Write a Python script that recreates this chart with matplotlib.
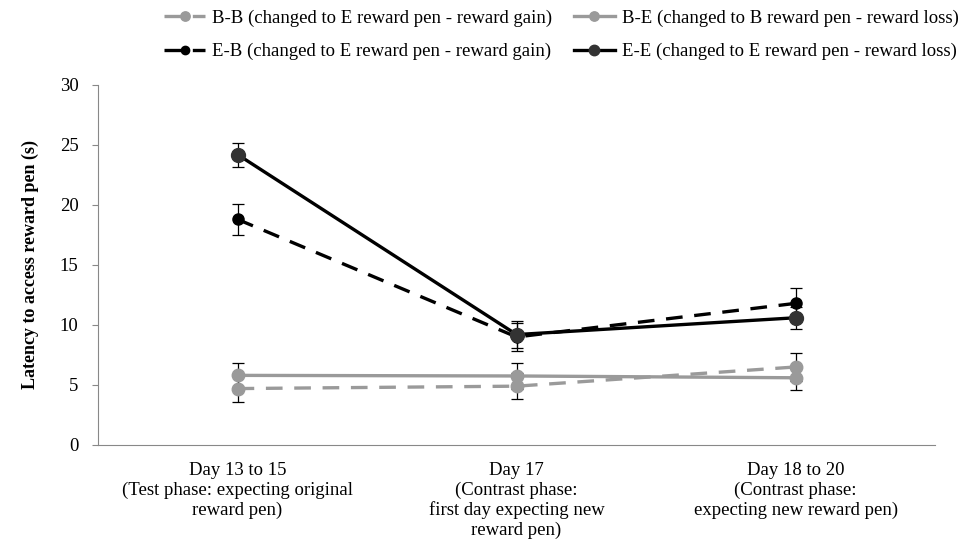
import matplotlib.pyplot as plt

periods = ['Day 13 to 15\n(Test phase: expecting original\nreward pen)',
           'Day 17\n(Contrast phase:\nfirst day expecting new\nreward pen)',
           'Day 18 to 20\n(Contrast phase:\nexpecting new reward pen)']

bb_mean = [4.7, 4.9, 6.5]
bb_err = [1.1, 1.1, 1.2]
be_mean = [5.8, 5.75, 5.6]
be_err = [1.0, 1.05, 1.0]
eb_mean = [18.8, 9.0, 11.8]
eb_err = [1.3, 1.2, 1.3]
ee_mean = [24.2, 9.2, 10.6]
ee_err = [1.0, 1.1, 0.9]

plt.rcParams['font.family'] = 'Liberation Serif'

fig = plt.figure(figsize=(9.71, 5.48), dpi=100)
ax = fig.add_axes([0.101, 0.188, 0.862, 0.657])

x = range(len(periods))
dash = (0, (5, 3.5))
series = [
    ('B-B (changed to E reward pen - reward gain)', bb_mean, bb_err, '#9a9a9a', '#9a9a9a', dash, 9),
    ('B-E (changed to B reward pen - reward loss)', be_mean, be_err, '#9a9a9a', '#9a9a9a', '-', 9),
    ('E-B (changed to E reward pen - reward gain)', eb_mean, eb_err, 'black', 'black', dash, 8),
    ('E-E (changed to E reward pen - reward loss)', ee_mean, ee_err, 'black', '#333333', '-', 10),
]
handles = {}
for label, mean, err, lc, mc, ls, ms in series:
    ax.errorbar(x, mean, yerr=err, fmt='none', ecolor='black', elinewidth=0.9,
                capsize=4, capthick=0.9, zorder=2)
    h, = ax.plot(x, mean, color=lc, linestyle=ls, linewidth=2.4, marker='o',
                 markersize=ms, markerfacecolor=mc, markeredgecolor=mc, label=label, zorder=3)
    handles[label] = h

ax.set_xlim(-0.5, 2.5)
ax.set_ylim(0, 30)
ax.set_yticks(range(0, 31, 5))
ax.set_xticks(list(x))
ax.set_xticklabels(periods, fontsize=13.5)
ax.tick_params(axis='x', length=0, pad=12)
ax.tick_params(axis='y', labelsize=13.5, length=4, width=0.8, color='#888888', pad=10)
for side in ['top', 'right']:
    ax.spines[side].set_visible(False)
for side in ['left', 'bottom']:
    ax.spines[side].set_color('#888888')
ax.set_ylabel('Latency to access reward pen (s)', fontsize=13, fontweight='bold', labelpad=15)

# legend fills column-first, so interleave to get B-B / B-E on the top row
order = [series[0][0], series[2][0], series[1][0], series[3][0]]
fig.legend([handles[k] for k in order], order, ncol=2, loc='upper center',
           bbox_to_anchor=(0.578, 1.013), frameon=False, fontsize=13.5, markerscale=0.75,
           handlelength=2.2, columnspacing=1.17, labelspacing=0.85, handletextpad=0.35)

fig.savefig('out.png', dpi=100)
